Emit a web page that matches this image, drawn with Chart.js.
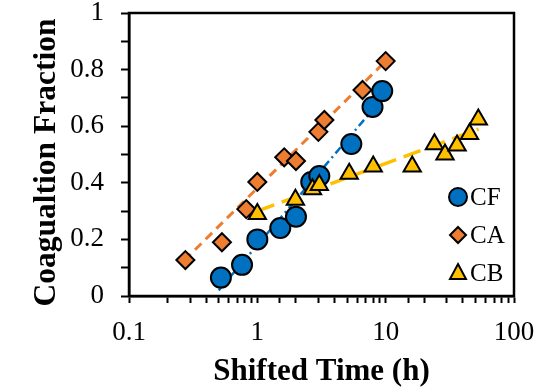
<!DOCTYPE html>
<html>
<head>
<meta charset="utf-8">
<script src="https://cdn.jsdelivr.net/npm/chart.js@4"></script>
<style>
    html, body { margin: 0; padding: 0; background: #fff; }
    #wrap { width: 560px; height: 387px; }
</style>
</head>
<body>
<div id="wrap"><canvas id="chart" width="560" height="387"></canvas></div>
<script>
// values
const cfX = [0.52, 0.76, 1.0, 1.51, 2.0, 2.63, 3.04, 5.4, 7.9, 9.4];
const cfY = [0.065, 0.11, 0.20, 0.24, 0.28, 0.403, 0.424, 0.537, 0.668, 0.724];
const caX = [0.275, 0.53, 0.82, 1.0, 1.62, 2.0, 2.99, 3.33, 6.6, 10.0];
const caY = [0.127, 0.19, 0.307, 0.403, 0.49, 0.477, 0.58, 0.622, 0.728, 0.83];
const cbX = [1.0, 1.98, 2.69, 3.04, 5.2, 8.0, 16.1, 24, 29, 36, 45, 52.7];
const cbY = [0.29, 0.34, 0.377, 0.392, 0.432, 0.458, 0.458, 0.536, 0.50, 0.532, 0.572, 0.624];

// trend line end points
const cfTrendX = [0.5, 9.5];
const cfTrendY = [0.02, 0.70];
const caTrendX = [0.27, 10];
const caTrendY = [0.126, 0.83];
const cbTrendX = [1, 53];
const cbTrendY = [0.30, 0.59];

const seriesNames = ['CF', 'CA', 'CB'];
const xTickLabels = [0.1, 1, 10, 100];
const yTickLabels = [0, 0.2, 0.4, 0.6, 0.8, 1];
const yTitle = 'Coagualtion Fraction';

const BLUE = '#0070C0';
const ORANGE = '#ED7D31';
const YELLOW = '#FFC000';
const SERIF = "'Liberation Serif', 'Times New Roman', serif";

const toPoints = (xs, ys) => xs.map((x, i) => ({ x: x, y: ys[i] }));

function trend(label, xs, ys, color, dash, width) {
    return {
        type: 'line',
        label: label,
        data: toPoints(xs, ys),
        borderColor: color,
        borderWidth: width,
        borderDash: dash,
        pointRadius: 0,
        showLine: true,
        fill: false,
        order: 10
    };
}

function markers(label, xs, ys, color, style, radius, order) {
    return {
        label: label,
        data: toPoints(xs, ys),
        pointStyle: style,
        pointRadius: radius,
        pointHoverRadius: radius,
        backgroundColor: color,
        borderColor: '#000',
        pointBorderWidth: 2,
        borderWidth: 2,
        showLine: false,
        order: order
    };
}

// legend drawn inside the plot, bottom right
const insideLegend = {
    id: 'insideLegend',
    afterDraw(chart) {
        const { ctx, chartArea } = chart;
        const x = chartArea.right - 56;
        const ys = [chartArea.bottom - 99, chartArea.bottom - 61, chartArea.bottom - 23];
        const colors = [BLUE, ORANGE, YELLOW];
        ctx.save();
        ctx.lineWidth = 2;
        ctx.strokeStyle = '#000';
        ys.forEach((y, i) => {
            ctx.fillStyle = colors[i];
            ctx.beginPath();
            if (i === 0) {
                ctx.arc(x, y, 9, 0, Math.PI * 2);
            } else if (i === 1) {
                ctx.moveTo(x, y - 8); ctx.lineTo(x + 8, y); ctx.lineTo(x, y + 8); ctx.lineTo(x - 8, y);
                ctx.closePath();
            } else {
                ctx.moveTo(x, y - 9); ctx.lineTo(x + 8, y + 6); ctx.lineTo(x - 8, y + 6);
                ctx.closePath();
            }
            ctx.fill();
            ctx.stroke();
            ctx.fillStyle = '#000';
            ctx.font = '25px ' + SERIF;
            ctx.textBaseline = 'middle';
            ctx.textAlign = 'left';
            ctx.fillText(seriesNames[i], x + 12, y + 1);
        });
        ctx.restore();
    }
};

// y axis title, sits a little below the middle of the axis
const yAxisTitle = {
    id: 'yAxisTitle',
    afterDraw(chart) {
        const { ctx, chartArea } = chart;
        ctx.save();
        ctx.translate(55, (chartArea.top + chartArea.bottom) / 2 + 8);
        ctx.rotate(-Math.PI / 2);
        ctx.font = 'bold 31.5px ' + SERIF;
        ctx.fillStyle = '#000';
        ctx.textAlign = 'center';
        ctx.textBaseline = 'alphabetic';
        ctx.fillText(yTitle, 0, 0);
        ctx.restore();
    }
};

// top and right frame lines
const frame = {
    id: 'frame',
    beforeDatasetsDraw(chart) {
        const { ctx, chartArea } = chart;
        ctx.save();
        ctx.strokeStyle = '#000';
        ctx.lineWidth = 2.5;
        ctx.strokeRect(chartArea.left, chartArea.top, chartArea.right - chartArea.left, chartArea.bottom - chartArea.top);
        ctx.restore();
    }
};

const isDecade = v => Math.abs(Math.log10(v) - Math.round(Math.log10(v))) < 1e-6;

new Chart(document.getElementById('chart'), {
    type: 'scatter',
    data: {
        datasets: [
            markers(seriesNames[0], cfX, cfY, BLUE, 'circle', 10, 2),
            markers(seriesNames[1], caX, caY, ORANGE, 'rectRot', 9, 3),
            markers(seriesNames[2], cbX, cbY, YELLOW, 'triangle', 10, 1),
            trend('CF fit', cfTrendX, cfTrendY, BLUE, [8, 4, 2, 4], 2.5),
            trend('CA fit', caTrendX, caTrendY, ORANGE, [9, 6], 3),
            trend('CB fit', cbTrendX, cbTrendY, YELLOW, [18, 8], 3.5)
        ]
    },
    options: {
        responsive: false,
        animation: false,
        layout: { padding: { top: 13, right: 46, left: 0, bottom: 0 } },
        plugins: {
            legend: { display: false },
            tooltip: { enabled: false }
        },
        scales: {
            x: {
                type: 'logarithmic',
                min: 0.1,
                max: 100,
                afterFit: s => {
                    s.height = 91;
                    s.paddingLeft = 0; s.paddingRight = 0;
                },
                grid: { drawOnChartArea: false, tickLength: 7, tickWidth: 2, tickColor: '#000' },
                border: { color: '#000', width: 2.5 },
                ticks: {
                    autoSkip: false,
                    maxRotation: 0,
                    padding: 14,
                    color: '#000',
                    font: { family: SERIF, size: 27 },
                    callback: v => (isDecade(v) && xTickLabels.some(t => Math.abs(t - v) < 1e-9)) ? String(v) : ''
                },
                title: {
                    display: true,
                    text: 'Shifted Time (h)',
                    color: '#000',
                    font: { family: SERIF, size: 31, weight: 'bold', lineHeight: 1 },
                    padding: { top: 0, bottom: 0 }
                }
            },
            y: {
                min: 0,
                max: 1,
                afterFit: s => {
                    s.width = 129;
                    s.paddingTop = 0; s.paddingBottom = 0;
                },
                grid: { drawOnChartArea: false, tickLength: 8, tickWidth: 2, tickColor: '#000' },
                border: { color: '#000', width: 2.5 },
                ticks: {
                    stepSize: 0.1,
                    autoSkip: false,
                    padding: 17,
                    color: '#000',
                    font: { family: SERIF, size: 27 },
                    callback: v => {
                        const r = Math.round(v * 10) / 10;
                        return yTickLabels.some(t => Math.abs(t - r) < 1e-9) ? String(r) : '';
                    }
                }
            }
        }
    },
    plugins: [frame, insideLegend, yAxisTitle]
});
</script>
</body>
</html>
